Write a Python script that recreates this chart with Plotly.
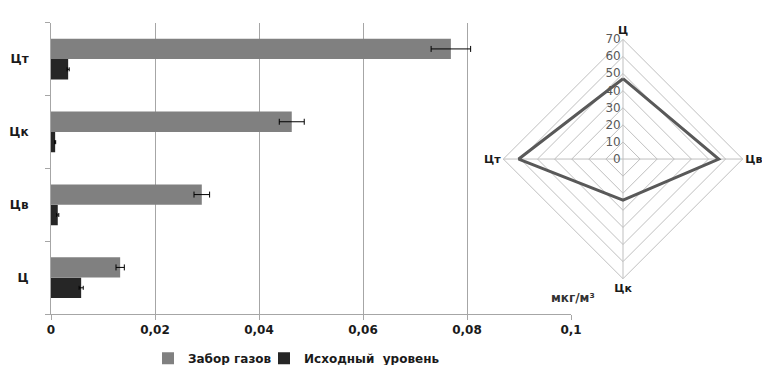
import plotly.graph_objects as go

# Bar chart data
categories = ["Ц", "Цв", "Цк", "Цт"]
gas_sampling = [0.0133, 0.0290, 0.0463, 0.0769]
gas_err = [0.0008, 0.0015, 0.0024, 0.0038]
baseline = [0.0058, 0.0013, 0.0008, 0.0033]
baseline_err = [0.0004, 0.0002, 0.0001, 0.0002]
x_ticks = [0, 0.02, 0.04, 0.06, 0.08, 0.1]

# Radar chart data
radar_cats = ["Ц", "Цв", "Цк", "Цт"]
radar_vals = [47, 56, 24, 61]
radar_ticks = [0, 10, 20, 30, 40, 50, 60, 70]

W, H = 770, 365
BOLD = "DejaVu Sans"
legend_font = dict(family=BOLD, size=12, weight="bold", color="#1a1a1a")

fig = go.Figure()

fig.add_trace(go.Bar(
    y=categories, x=baseline, orientation="h", name="Исходный  уровень",
    marker=dict(color="#262626", line=dict(width=0)),
    error_x=dict(type="data", array=baseline_err, color="#000000", thickness=1, width=2),
    legend="legend2",
))
fig.add_trace(go.Bar(
    y=categories, x=gas_sampling, orientation="h", name="Забор газов",
    marker=dict(color="#808080", line=dict(width=0)),
    error_x=dict(type="data", array=gas_err, color="#000000", thickness=1, width=3),
    legend="legend",
))

fig.add_trace(go.Scatterpolar(
    r=radar_vals + radar_vals[:1], theta=radar_cats + radar_cats[:1],
    mode="lines", line=dict(color="#595959", width=3), showlegend=False,
))

fig.update_layout(
    width=W, height=H,
    margin=dict(l=0, r=0, t=0, b=0),
    paper_bgcolor="white", plot_bgcolor="white",
    separators=", ",
    barmode="group", bargap=0.44, bargroupgap=0,
    font=dict(family=BOLD, color="#1a1a1a"),
    xaxis=dict(
        domain=[43 / W, 563 / W], range=[0, 0.1],
        tickvals=x_ticks, tickformat=".2~f",
        showgrid=True, gridcolor="#a6a6a6", gridwidth=1,
        showline=True, linecolor="#a6a6a6", linewidth=1,
        ticks="outside", ticklen=5, tickcolor="#a6a6a6",
        tickfont=dict(family=BOLD, size=12, weight="bold", color="#1a1a1a"),
        zeroline=False, fixedrange=True, automargin=False,
    ),
    yaxis=dict(
        domain=[(H - 312) / H, (H - 15) / H],
        categoryorder="array", categoryarray=categories,
        showline=True, linecolor="#a6a6a6", linewidth=1,
        ticks="outside", ticklen=5, tickcolor="#a6a6a6", tickson="boundaries",
        tickfont=dict(family=BOLD, size=12, weight="bold", color="#1a1a1a"),
        showgrid=False, ticklabelstandoff=19, automargin=False,
    ),
    polar=dict(
        domain=dict(x=[493 / W, 737 / W], y=[(H - 276) / H, (H - 32) / H]),
        gridshape="linear", bgcolor="white",
        angularaxis=dict(
            direction="clockwise", rotation=90,
            categoryorder="array", categoryarray=radar_cats,
            showline=True, linecolor="#bfbfbf", linewidth=1,
            gridcolor="#bfbfbf", ticks="",
            tickfont=dict(family=BOLD, size=11, weight="bold", color="#1a1a1a"),
        ),
        radialaxis=dict(
            range=[0, 70], tickvals=radar_ticks, angle=90, tickangle=90,
            side="counterclockwise",
            showline=False, gridcolor="#bfbfbf", ticks="",
            tickfont=dict(family=BOLD, size=12, color="#595959"),
        ),
    ),
    legend=dict(
        orientation="h", x=140 / W, y=(H - 357) / H, xanchor="left", yanchor="middle",
        font=legend_font, itemwidth=30, bgcolor="rgba(0,0,0,0)",
    ),
    legend2=dict(
        orientation="h", x=256 / W, y=(H - 357) / H, xanchor="left", yanchor="middle",
        font=legend_font, itemwidth=30, bgcolor="rgba(0,0,0,0)",
    ),
    annotations=[dict(
        text="мкг/м³", x=565 / W, y=(H - 296) / H, xref="paper", yref="paper",
        xanchor="center", yanchor="middle", showarrow=False,
        font=dict(family=BOLD, size=12, weight="bold", color="#333333"),
    )],
)

fig.write_html("out.html")
